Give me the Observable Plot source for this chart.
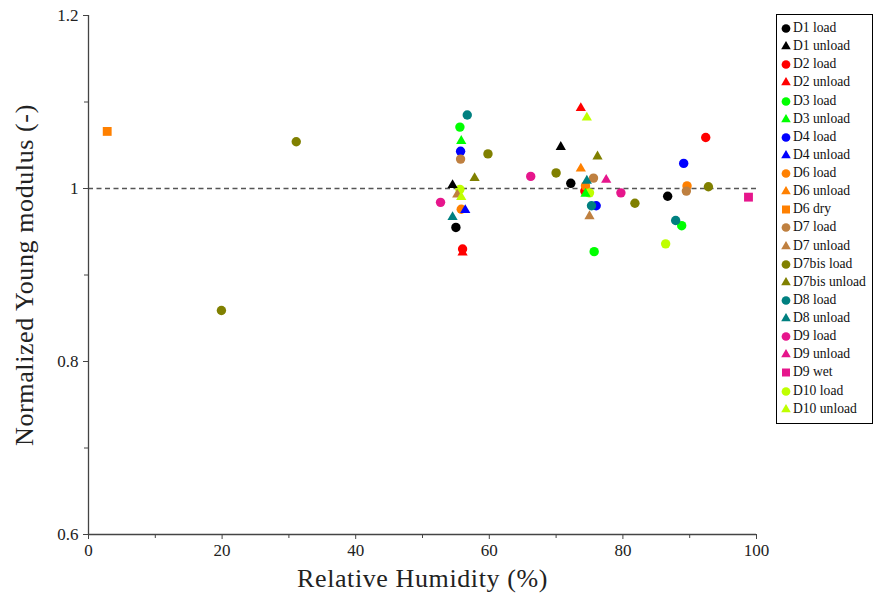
<!DOCTYPE html>
<html>
<head>
<meta charset="utf-8">
<script src="https://cdn.jsdelivr.net/npm/d3@7"></script>
<script src="https://cdn.jsdelivr.net/npm/@observablehq/plot@0.6"></script>
<style>
  html, body { margin: 0; padding: 0; background: #fff; }
  #wrap { position: relative; width: 874px; height: 595px; font-family: "Liberation Serif", serif; }
  #legend { position: absolute; left: 776px; top: 14px; width: 97px; border: 1px solid #000; background: #fff; padding: 4px 0 5px 0; box-sizing: border-box; }
  .row { display: flex; align-items: center; height: 18.14px; font-size: 13.6px; white-space: nowrap; color: #111; }
  .row svg { margin-left: 4px; margin-right: 2px; flex: none; }
</style>
</head>
<body>
<div id="wrap"><div id="chart"></div><div id="legend"></div></div>
<script>
const seriesNames = ["D1 load","D1 unload","D2 load","D2 unload","D3 load","D3 unload","D4 load","D4 unload","D6 load","D6 unload","D6 dry","D7 load","D7 unload","D7bis load","D7bis unload","D8 load","D8 unload","D9 load","D9 unload","D9 wet","D10 load","D10 unload"];
const seriesColors = ["#000000","#000000","#ff0000","#ff0000","#00ff00","#00ff00","#0000ff","#0000ff","#ff8000","#ff8000","#ff8000","#bf8040","#bf8040","#808000","#808000","#008080","#008080","#e6168c","#e6168c","#e6168c","#bfff00","#bfff00"];
const seriesSymbols = ["circle","triangle","circle","triangle","circle","triangle","circle","triangle","circle","triangle","square","circle","triangle","circle","triangle","circle","triangle","circle","triangle","square","circle","triangle"];
const rhValues = [
  [55.0, 72.2, 86.7],
  [54.5, 70.7],
  [56.0, 74.3, 92.4],
  [56.0, 73.7],
  [55.6, 75.7, 88.8],
  [55.8, 74.4],
  [55.7, 76.0, 89.1],
  [56.4],
  [55.8, 74.4, 89.6],
  [73.7],
  [2.8],
  [55.7, 75.6, 89.5],
  [55.2, 75.0],
  [19.9, 31.1, 59.8, 70.0, 81.8, 92.8],
  [57.8, 76.2],
  [56.7, 75.3, 87.9],
  [54.5, 74.6],
  [52.7, 66.2, 79.7],
  [77.5],
  [98.8],
  [55.6, 75.0, 86.4],
  [55.8, 74.6]
];
const modulusValues = [
  [0.955, 1.006, 0.991],
  [1.004, 1.048],
  [0.930, 0.997, 1.059],
  [0.926, 1.093],
  [1.071, 0.927, 0.957],
  [1.055, 0.994],
  [1.043, 0.980, 1.029],
  [0.975],
  [0.976, 1.003, 1.003],
  [1.023],
  [1.066],
  [1.034, 1.012, 0.997],
  [0.993, 0.968],
  [0.859, 1.054, 1.040, 1.018, 0.983, 1.002],
  [1.012, 1.037],
  [1.085, 0.980, 0.963],
  [0.967, 1.009],
  [0.984, 1.014, 0.995],
  [1.010],
  [0.990],
  [0.999, 0.995, 0.936],
  [0.990, 1.082]
];
const xMajorTicks = [0, 20, 40, 60, 80, 100];
const xMinorTicks = [10, 30, 50, 70, 90];
const yMajorTicks = [0.6, 0.8, 1.0, 1.2];
const yMinorTicks = [0.7, 0.9, 1.1];
const referenceLevel = [1];
const xTitle = "Relative Humidity (%)";
const yTitle = "Normalized Young modulus (-)";

const symbolSize = {circle: 4.7, triangle: 3.8, square: 5};
const points = [];
seriesNames.forEach((name, i) => {
  rhValues[i].forEach((x, j) => points.push({series: name, rh: x, e: modulusValues[i][j], color: seriesColors[i], symbol: seriesSymbols[i], size: symbolSize[seriesSymbols[i]]}));
});

const axisColor = "#444";
const chart = Plot.plot({
  width: 776,
  height: 595,
  marginLeft: 88,
  marginRight: 20,
  marginTop: 15,
  marginBottom: 61,
  style: {fontFamily: "Liberation Serif, serif", fontSize: "17px", color: "#222", background: "#fff"},
  x: {domain: [0, 100]},
  y: {domain: [0.6, 1.2]},
  r: {type: "identity"},
  marks: [
    Plot.axisX({ticks: xMajorTicks, tickSize: 5, tickPadding: 4, stroke: axisColor, fontSize: 17, label: null}),
    Plot.axisX({ticks: xMinorTicks, tickSize: 4, tickFormat: () => "", stroke: axisColor, label: null}),
    Plot.axisY({ticks: yMajorTicks, tickSize: 5, tickPadding: 5, stroke: axisColor, fontSize: 17, label: null, tickFormat: d => String(+d.toFixed(2))}),
    Plot.axisY({ticks: yMinorTicks, tickSize: 4, tickFormat: () => "", stroke: axisColor, label: null}),
    Plot.ruleY(referenceLevel, {stroke: "#555", strokeWidth: 1.3, strokeDasharray: "5,3.5"}),
    Plot.ruleX([0], {stroke: axisColor, strokeWidth: 1.3}),
    Plot.ruleY([0.6], {stroke: axisColor, strokeWidth: 1.3}),
    Plot.dot(points, {x: "rh", y: "e", fill: "color", symbol: "symbol", r: "size", stroke: "none"}),
    Plot.text([xTitle], {frameAnchor: "bottom", dy: 52, fontSize: 26, fill: "#222"}),
    Plot.text([yTitle], {frameAnchor: "left", textAnchor: "middle", dx: -64, rotate: -90, fontSize: 26, fill: "#222"})
  ]
});
document.getElementById("chart").appendChild(chart);
d3.select(chart).selectAll("text").filter(function() { return this.textContent === xTitle || this.textContent === yTitle; }).style("letter-spacing", "0.6px");

const legend = d3.select("#legend");
seriesNames.forEach((name, i) => {
  const row = legend.append("div").attr("class", "row");
  const svg = row.append("svg").attr("width", 10).attr("height", 10);
  const s = seriesSymbols[i];
  const sym = s === "circle" ? d3.symbolCircle : s === "square" ? d3.symbolSquare : d3.symbolTriangle;
  const area = s === "circle" ? 60 : s === "square" ? 64 : 40;
  svg.append("path").attr("transform", "translate(5,5.5)").attr("d", d3.symbol(sym, area)()).attr("fill", seriesColors[i]);
  row.append("span").text(name);
});
</script>
</body>
</html>
